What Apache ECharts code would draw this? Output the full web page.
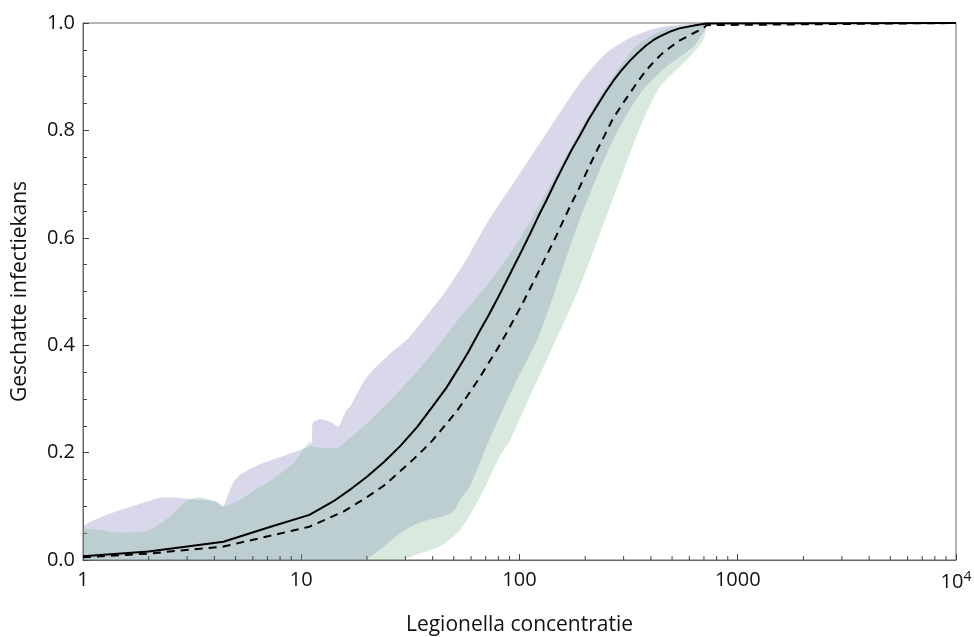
<!DOCTYPE html>
<html lang="nl">
<head>
  <meta charset="UTF-8">
  <title>Geschatte infectiekans</title>
  <script src="https://cdn.jsdelivr.net/npm/echarts@6/dist/echarts.min.js"></script>
  <style>
    html, body { margin: 0; padding: 0; background: #fff; }
    #chart { width: 974px; height: 637px; }
  </style>
</head>
<body>
  <div id="chart"></div>
  <script>
    // doorgetrokken lijn
    const solidX = [1, 2, 4.4, 7, 10.9, 14, 17, 20, 24, 28.4, 34, 40, 46.3, 52, 58, 66, 72, 78.6, 86, 94, 103, 112, 122, 133, 145, 158, 173, 190, 207, 226, 247, 270, 295, 321, 350, 380, 410, 440, 490, 540, 640, 720, 10000]
    const solidY = [0.007, 0.016, 0.034, 0.06, 0.084, 0.109, 0.133, 0.155, 0.183, 0.212, 0.248, 0.286, 0.321, 0.354, 0.386, 0.428, 0.455, 0.484, 0.515, 0.546, 0.578, 0.608, 0.64, 0.67, 0.702, 0.732, 0.763, 0.792, 0.82, 0.845, 0.87, 0.893, 0.913, 0.93, 0.945, 0.958, 0.968, 0.975, 0.984, 0.99, 0.996, 0.999, 1.0]

    // gestippelde lijn
    const dashX = [1, 2, 4.4, 10.9, 15.6, 20, 24, 28, 34, 40, 46.3, 52, 58, 66, 73, 80, 87, 94, 103, 112, 122, 133, 146, 160, 174, 189, 207, 226, 247, 268, 294, 320, 350, 381, 415, 450, 495, 540, 620, 695, 720, 10000]
    const dashY = [0.005, 0.012, 0.025, 0.062, 0.09, 0.117, 0.139, 0.163, 0.194, 0.223, 0.254, 0.279, 0.307, 0.341, 0.37, 0.396, 0.422, 0.447, 0.477, 0.506, 0.536, 0.567, 0.6, 0.635, 0.666, 0.695, 0.73, 0.762, 0.793, 0.822, 0.847, 0.869, 0.892, 0.912, 0.929, 0.943, 0.956, 0.967, 0.98, 0.99, 0.996, 1.0]

    // paarse band
    const purpleUpX = [1, 2.2, 2.5, 3.2, 4.1, 4.39, 4.6, 4.9, 5.3, 6.0, 6.95, 9.87, 11.1, 11.3, 12.2, 13.5, 14.5, 14.8, 16.1, 16.7, 19.9, 24.7, 30.4, 36.2, 46.3, 57.1, 66, 75.8, 93.9, 133, 189, 250, 321, 424, 560, 720]
    const purpleUpY = [0.062, 0.115, 0.117, 0.113, 0.109, 0.100, 0.12, 0.145, 0.16, 0.172, 0.183, 0.205, 0.214, 0.255, 0.262, 0.258, 0.25, 0.248, 0.279, 0.285, 0.34, 0.379, 0.41, 0.447, 0.503, 0.56, 0.605, 0.646, 0.702, 0.795, 0.888, 0.944, 0.972, 0.99, 0.997, 1.0]
    const purpleLoX = [1, 19, 22.9, 28.4, 34.9, 43.2, 49.6, 53.9, 59.2, 70.5, 93.9, 124, 153, 189, 268, 358, 472, 625, 719, 720]
    const purpleLoY = [0, 0, 0.019, 0.05, 0.07, 0.08, 0.09, 0.115, 0.137, 0.211, 0.323, 0.422, 0.528, 0.635, 0.782, 0.869, 0.919, 0.956, 0.993, 1.0]

    // groene band
    const greenUpX = [1, 1.43, 1.82, 2.03, 2.5, 2.98, 3.43, 3.96, 4.39, 5.24, 6.46, 6.95, 9.2, 10.9, 11.3, 14.5, 15, 19.2, 27.4, 38.9, 55.1, 77, 104, 148, 210, 268, 340, 457, 671, 720]
    const greenUpY = [0.056, 0.051, 0.052, 0.056, 0.081, 0.11, 0.117, 0.11, 0.100, 0.112, 0.137, 0.143, 0.18, 0.22, 0.211, 0.208, 0.211, 0.248, 0.31, 0.379, 0.459, 0.53, 0.608, 0.72, 0.832, 0.9, 0.956, 0.987, 0.998, 1.0]
    const greenLoX = [1, 28, 35, 43, 53.4, 66, 81, 90.4, 108, 142, 185, 250, 358, 440, 580, 695, 719, 720]
    const greenLoY = [0, 0, 0.012, 0.025, 0.056, 0.118, 0.192, 0.223, 0.292, 0.397, 0.5, 0.639, 0.807, 0.881, 0.93, 0.968, 0.996, 1.0]

    // kleine streepjes op de x-as
    const xMinor = []
    for (let d = 1; d < 10000; d *= 10) {
      for (let m = 2; m <= 9; m++) xMinor.push(m * d)
    }

    const zip = (xs, ys) => xs.map((x, i) => [x, ys[i]])
    const band = (upX, upY, loX, loY) => zip(upX, upY).concat(zip(loX, loY).reverse())

    const bandSeries = (pts, color) => ({
      type: 'custom',
      coordinateSystem: 'cartesian2d',
      silent: true,
      z: 1,
      data: pts,
      encode: { x: 0, y: 1 },
      renderItem: (params, api) => {
        if (params.dataIndex !== 0) return null
        const lo = api.coord([1, 1])
        const hi = api.coord([10000, 0])
        return {
          type: 'polygon',
          shape: {
            points: pts.map(p => api.coord(p)),
            smooth: 0.25,
            smoothConstraint: [lo, hi]
          },
          style: { fill: color }
        }
      }
    })

    const font = 'Open Sans'
    const chart = echarts.init(document.getElementById('chart'))
    chart.setOption({
      animation: false,
      grid: {
        left: 83, right: 18, top: 23, bottom: 77,
        outerBoundsMode: 'none',
        show: true, borderColor: '#666', borderWidth: 1
      },
      xAxis: {
        type: 'log',
        logBase: 10,
        min: 1,
        max: 10000,
        name: 'Legionella concentratie',
        nameLocation: 'middle',
        nameGap: 55,
        nameTextStyle: { fontFamily: font, fontSize: 21, color: '#111' },
        axisLine: { lineStyle: { color: '#666' } },
        axisTick: { inside: true, length: 6, lineStyle: { color: '#444' } },
        splitLine: { show: false },
        axisLabel: {
          margin: 10,
          fontFamily: font,
          fontSize: 20,
          color: '#111',
          formatter: v => v === 10000 ? '{b|10}{s|4}' : String(v),
          rich: {
            b: { fontFamily: font, fontSize: 20, color: '#111', lineHeight: 24 },
            s: { fontFamily: font, fontSize: 14, color: '#111', verticalAlign: 'top', lineHeight: 14 }
          }
        }
      },
      yAxis: {
        type: 'value',
        min: 0,
        max: 1,
        interval: 0.2,
        name: 'Geschatte infectiekans',
        nameLocation: 'middle',
        nameGap: 52,
        nameTextStyle: { fontFamily: font, fontSize: 21, color: '#111' },
        axisLine: { show: true, lineStyle: { color: '#666' } },
        axisTick: { show: true, inside: true, length: 6, lineStyle: { color: '#444' } },
        minorTick: { show: true, splitNumber: 4, length: 4, lineStyle: { color: '#444' } },
        splitLine: { show: false },
        axisLabel: {
          margin: 8,
          fontFamily: font,
          fontSize: 20,
          color: '#111',
          formatter: v => v.toFixed(1)
        }
      },
      series: [
        bandSeries(band(purpleUpX, purpleUpY, purpleLoX, purpleLoY), 'rgba(103,103,173,0.26)'),
        bandSeries(band(greenUpX, greenUpY, greenLoX, greenLoY), 'rgba(103,173,126,0.26)'),
        {
          type: 'custom',
          coordinateSystem: 'cartesian2d',
          silent: true,
          z: 3,
          data: xMinor.map(v => [v, 0]),
          encode: { x: 0, y: 1 },
          renderItem: (params, api) => {
            const p = api.coord([api.value(0), 0])
            return {
              type: 'line',
              shape: { x1: p[0], y1: p[1], x2: p[0], y2: p[1] - 4 },
              style: { stroke: '#444', lineWidth: 1 }
            }
          }
        },
        {
          type: 'line',
          data: zip(solidX, solidY),
          showSymbol: false,
          z: 4,
          lineStyle: { color: '#000', width: 2 }
        },
        {
          type: 'line',
          data: zip(dashX, dashY),
          showSymbol: false,
          z: 4,
          lineStyle: { color: '#000', width: 2, type: [8, 6] }
        }
      ]
    })
  </script>
</body>
</html>
